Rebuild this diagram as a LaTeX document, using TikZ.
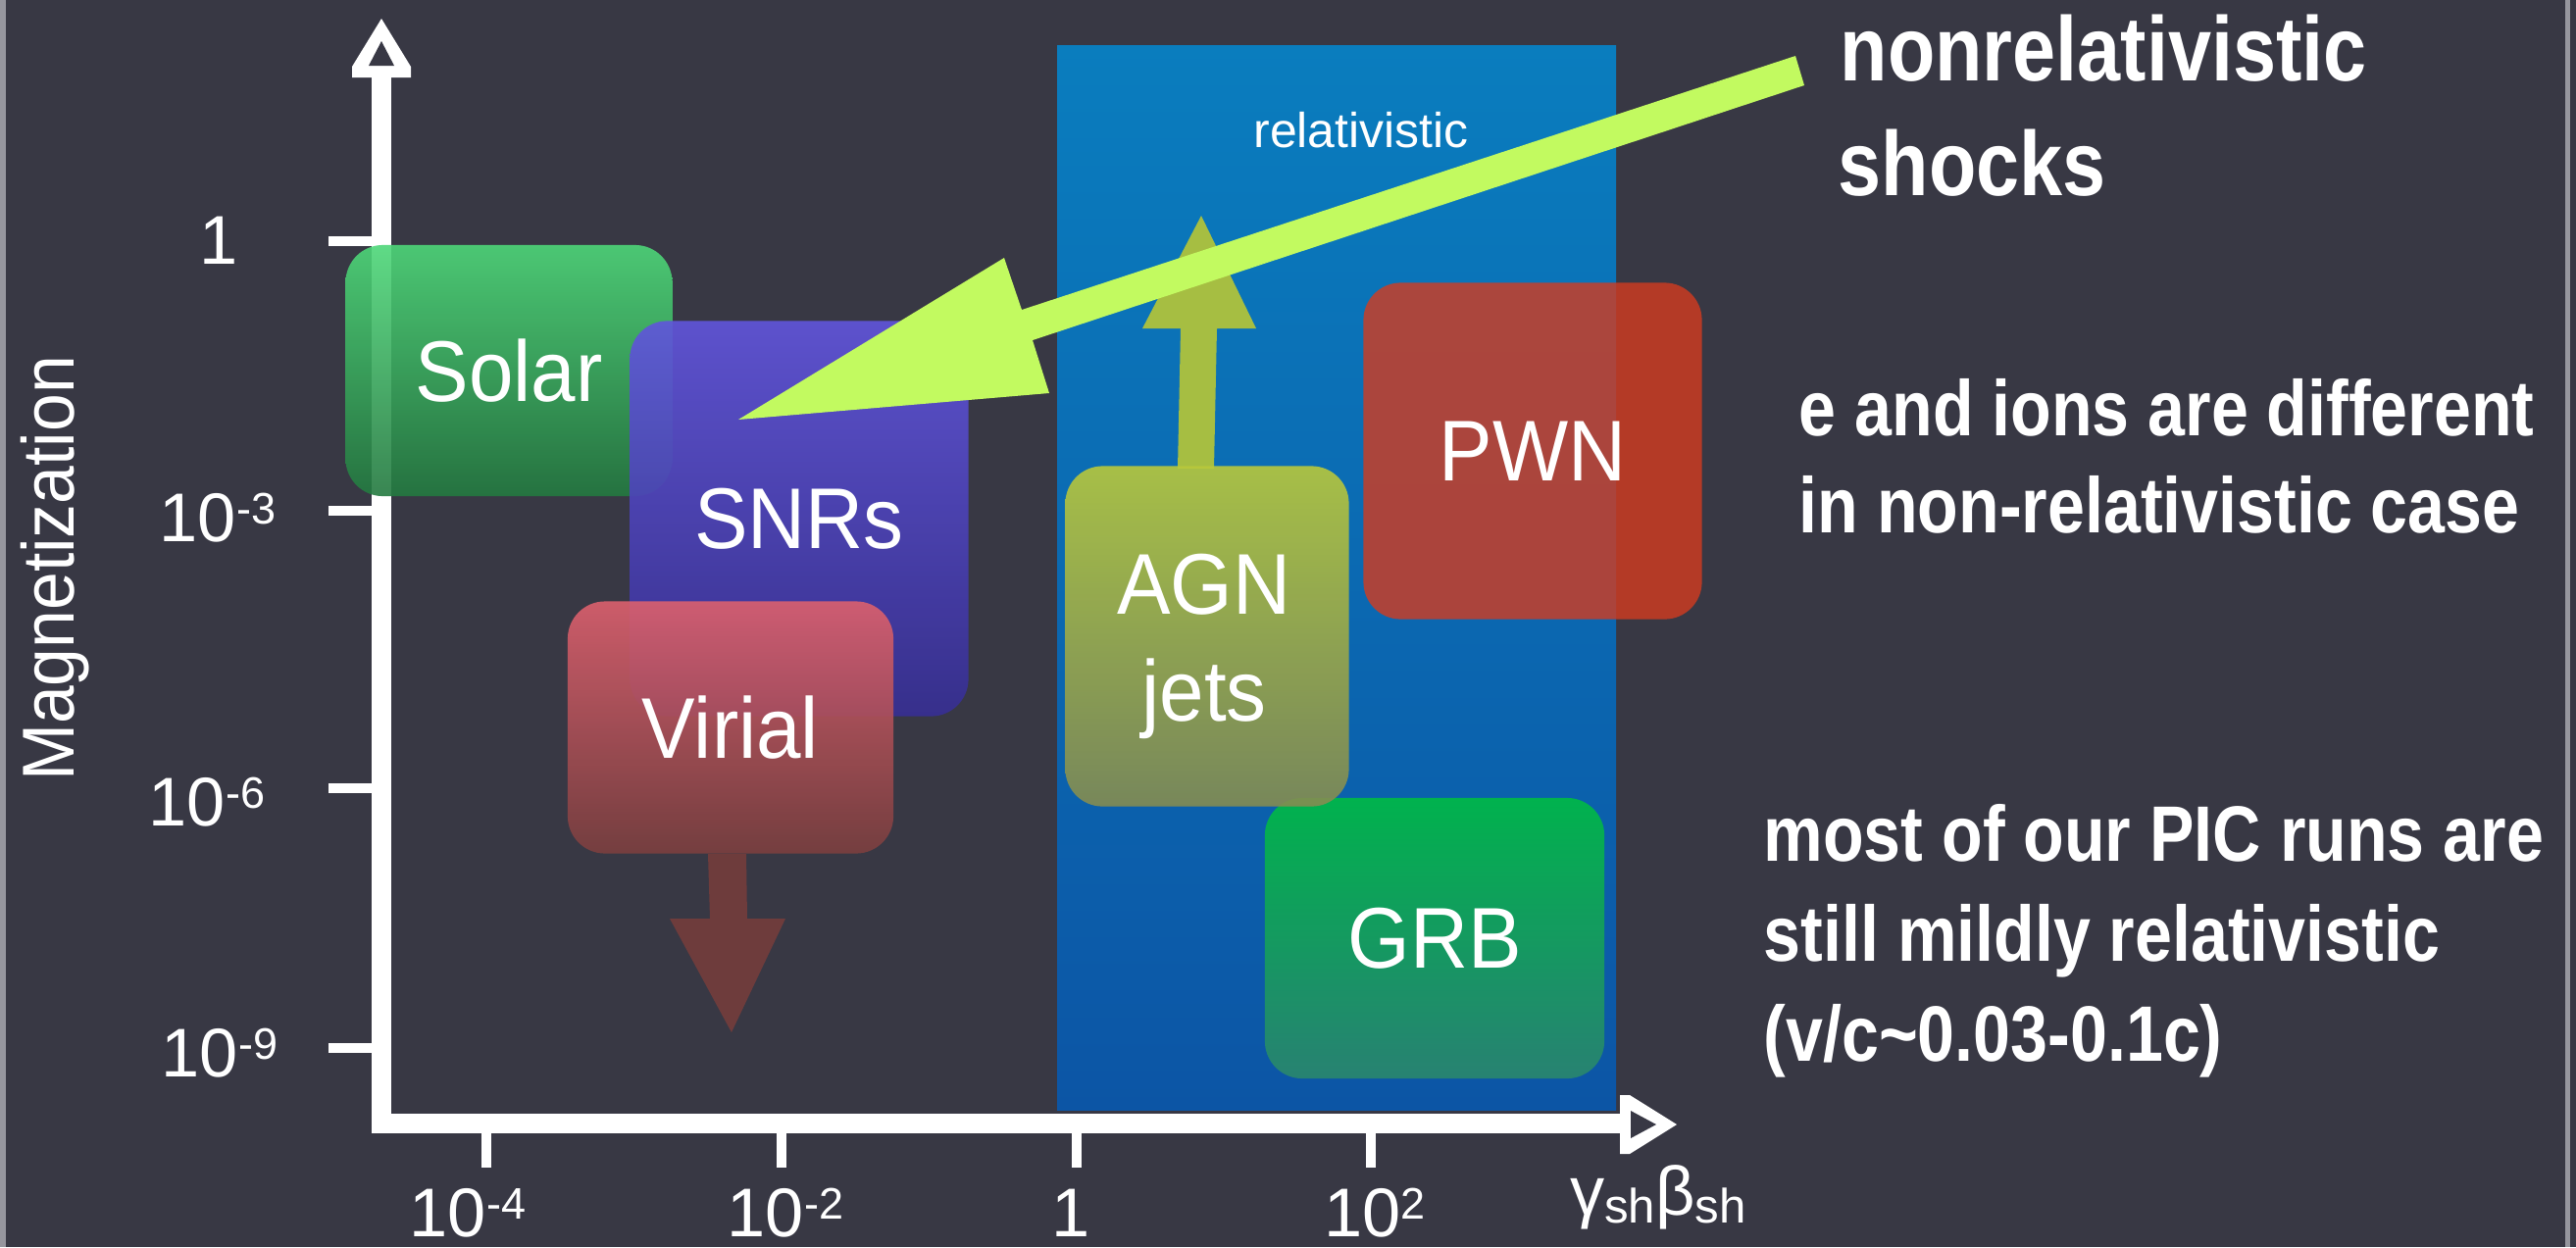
\documentclass[tikz,border=0pt]{standalone}
\usepackage{fontspec}
\setmainfont{Liberation Sans}
\newfontfamily\lblfam[FakeStretch=0.93]{Liberation Sans}
\newfontfamily\condfam[FakeStretch=0.85]{Liberation Sans}
\definecolor{bgc}{RGB}{56,56,68}
\definecolor{stripec}{RGB}{150,150,158}
\definecolor{relTop}{RGB}{10,125,190}
\definecolor{relBot}{RGB}{12,85,165}
\definecolor{solarTop}{RGB}{78,215,121}
\definecolor{solarBot}{RGB}{36,121,64}
\definecolor{snrTop}{RGB}{97,85,220}
\definecolor{snrBot}{RGB}{55,47,148}
\definecolor{virTop}{RGB}{221,96,110}
\definecolor{virBot}{RGB}{123,63,63}
\definecolor{virArrow}{RGB}{110,60,60}
\definecolor{agnTop}{RGB}{184,200,60}
\definecolor{agnBot}{RGB}{132,140,82}
\definecolor{agnArrow}{RGB}{166,190,66}
\definecolor{pwnC}{RGB}{212,59,31}
\definecolor{grbTop}{RGB}{0,187,68}
\definecolor{grbBot}{RGB}{43,135,109}
\definecolor{limeArrow}{RGB}{194,250,96}
\newcommand{\tsup}[1]{\raisebox{5pt}{\fontsize{12.8pt}{14pt}\selectfont #1}}
\newcommand{\subsh}{\raisebox{-2.3pt}{\fontsize{14pt}{14pt}\selectfont sh}}
\begin{document}
\begin{tikzpicture}[x=0.01cm,y=-0.01cm,
  region/.style={rounded corners=0.38cm, inner sep=0pt, fill opacity=0.9, text opacity=1,
    text=white, font={\lblfam\fontsize{25pt}{31pt}\selectfont}, align=center},
  boxlabel/.style={text=white, inner sep=0pt, font={\lblfam\fontsize{25pt}{31pt}\selectfont}, align=center},
  ticklabel/.style={text=white, inner sep=0pt, font={\fontsize{20pt}{24pt}\selectfont}},
  tickline/.style={white, line width=0.1cm},
  axisline/.style={white, line width=0.2cm, line join=miter},
  noteS/.style={text=white, inner sep=0pt, anchor=base west,
    font={\condfam\bfseries\fontsize{22.8pt}{28pt}\selectfont}},
  noteL/.style={noteS, font={\condfam\bfseries\fontsize{26.5pt}{32pt}\selectfont}},
]
\useasboundingbox (0,0) rectangle (2627,1272);
\fill[bgc] (0,0) rectangle (2627,1272);
\fill[stripec] (0,0) rectangle (6,1272);
\fill[stripec] (2616,0) rectangle (2621,1272);

% relativistic region
\shade[top color=relTop, bottom color=relBot] (1078,46) rectangle (1648,1132);
\node[text=white, anchor=base, inner sep=0pt, font={\fontsize{14.2pt}{17pt}\selectfont}] (rel) at (1388,150) {relativistic};

% axes
\coordinate (ytop) at (389,79);
\coordinate (orig) at (389,1146);
\coordinate (xend) at (1652,1146);
\draw[axisline] (ytop) -- (orig) -- (xend);
\fill[white] (389,19) -- (419,68) -- (419,79) -- (359,79) -- (359,68) -- cycle;
\fill[bgc] (389,42) -- (402,67) -- (376,67) -- cycle;
\fill[white] (1710,1147) -- (1662,1117) -- (1652,1117) -- (1652,1177) -- (1662,1177) -- cycle;
\fill[bgc] (1689,1147) -- (1663,1133) -- (1663,1161) -- cycle;
\foreach \yy in {246,521,804,1069} \draw[tickline] (335,\yy) -- (380,\yy);
\foreach \xx in {496,797,1098,1398} \draw[tickline] (\xx,1150) -- (\xx,1191);

% tick labels
\node[ticklabel] (y0) at (223,245) {1};
\node[ticklabel] (y3) at (222,528) {10\tsup{-3}};
\node[ticklabel] (y6) at (211,818) {10\tsup{-6}};
\node[ticklabel] (y9) at (224,1074) {10\tsup{-9}};
\node[ticklabel] (x4) at (477,1237) {10\tsup{-4}};
\node[ticklabel] (x2) at (801,1237) {10\tsup{-2}};
\node[ticklabel] (x0) at (1092,1237) {1};
\node[ticklabel] (xp2) at (1402,1237) {10\tsup{2}};
\node[ticklabel] (xlab) at (1691,1221) {γ\subsh β\subsh};
\node[text=white, inner sep=0pt, rotate=90, font={\lblfam\fontsize{21.3pt}{24pt}\selectfont}] (maglab) at (56,580) {Magnetization};

% regions
\node[region, top color=solarTop, bottom color=solarBot, minimum width=3.33cm, minimum height=2.56cm] (solar) at (519,378) {Solar};
\node[region, top color=snrTop, bottom color=snrBot, minimum width=3.45cm, minimum height=4.03cm] (snr) at (815,529) {SNRs};
\node[region, top color=virTop, bottom color=virBot, minimum width=3.32cm, minimum height=2.57cm] (virial) at (745,742) {Virial};
\fill[virArrow] (746,1053) -- (683,937) -- (724,937) -- (722,871) -- (761,871) -- (762,937) -- (801,937) -- cycle;

\fill[agnArrow] (1225,220) -- (1281,335) -- (1241,335) -- (1238,478) -- (1201,478) -- (1204,335) -- (1165,335) -- cycle;
\node[region, top color=grbTop, bottom color=grbBot, minimum width=3.46cm, minimum height=2.86cm] (grb) at (1463,957) {GRB};
\node[region, top color=agnTop, bottom color=agnBot, minimum width=2.89cm, minimum height=3.47cm] (agn) at (1231,649) {};
\node[boxlabel] (agnlab) at (1228,659) {AGN\\jets};
\node[region, fill=pwnC, fill opacity=0.8, minimum width=3.45cm, minimum height=3.43cm] (pwn) at (1563,460) {PWN};

% nonrelativistic arrow
\fill[limeArrow] (753,428) -- (1024,263) -- (1042,316) -- (1831,57) -- (1840,87) -- (1053,347) -- (1070,401) -- cycle;

% notes
\node[noteL] (n1) at (1876,82) {nonrelativistic};
\node[noteL] (n2) at (1874,199) {shocks};
\node[noteS] (n3) at (1834,444) {e and ions are different};
\node[noteS] (n4) at (1834,543) {in non-relativistic case};
\node[noteS] (n5) at (1798,878) {most of our PIC runs are};
\node[noteS] (n6) at (1798,980) {still mildly relativistic};
\node[noteS] (n7) at (1798,1082) {(v/c\textasciitilde 0.03-0.1c)};
\end{tikzpicture}
\end{document}
